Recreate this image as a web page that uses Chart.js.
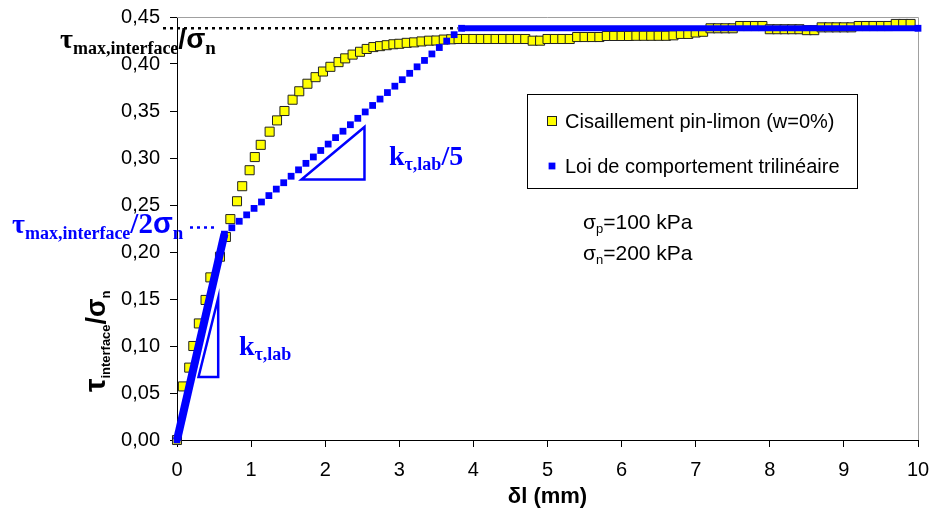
<!DOCTYPE html>
<html>
<head>
<meta charset="utf-8">
<script src="https://cdn.jsdelivr.net/npm/chart.js@4.4.1/dist/chart.umd.min.js"></script>
<style>
  html, body { margin: 0; padding: 0; background: #fff; }
  #wrap { width: 932px; height: 512px; position: relative; }
</style>
</head>
<body>
<div id="wrap"><canvas id="c"></canvas></div>
<script>
// ── values ────────────────────────────────────────────────────────────────
// shear test (yellow squares)
const dlTest = [
  0, 0.08, 0.165, 0.22, 0.295, 0.385, 0.45, 0.58, 0.66, 0.72, 0.81, 0.88, 0.98,
  1.05, 1.13, 1.25, 1.35, 1.45, 1.56, 1.65, 1.76, 1.87, 1.97, 2.07, 2.18, 2.27,
  2.37, 2.47, 2.56, 2.65, 2.74, 2.83, 2.92,
  3.0, 3.1, 3.2, 3.3, 3.4, 3.5, 3.6, 3.7, 3.8, 3.9, 4.0, 4.1, 4.2, 4.3, 4.4,
  4.5, 4.6, 4.7, 4.8, 4.9, 5.0, 5.1, 5.2, 5.3, 5.4, 5.5, 5.6, 5.7, 5.8, 5.9,
  6.0, 6.1, 6.2, 6.3, 6.4, 6.5, 6.6, 6.7, 6.8, 6.9, 7.0, 7.1, 7.2, 7.3, 7.4,
  7.5, 7.6, 7.7, 7.8, 7.9, 8.0, 8.1, 8.2, 8.3, 8.4, 8.5, 8.6, 8.7, 8.8, 8.9,
  9.0, 9.1, 9.2, 9.3, 9.4, 9.5, 9.6, 9.7, 9.8, 9.9
];
const tauTest = [
  0, 0.057, 0.077, 0.100, 0.124, 0.149, 0.173, 0.195, 0.216, 0.235, 0.254, 0.270, 0.287,
  0.301, 0.314, 0.328, 0.340, 0.350, 0.362, 0.371, 0.379, 0.386, 0.392, 0.397, 0.402, 0.406,
  0.410, 0.413, 0.416, 0.418, 0.419, 0.420, 0.421,
  0.4215, 0.4225, 0.423, 0.424, 0.4248, 0.425, 0.426, 0.4263, 0.4266, 0.4266, 0.4266, 0.4266, 0.4266, 0.4266, 0.4266,
  0.4266, 0.4266, 0.4266, 0.4248, 0.4248, 0.4266, 0.4266, 0.4266, 0.4266, 0.4287, 0.4287, 0.4287, 0.4287, 0.4298, 0.4298,
  0.4298, 0.4298, 0.430, 0.430, 0.430, 0.430, 0.430, 0.4305, 0.432, 0.432, 0.4335, 0.4343, 0.438, 0.438, 0.438,
  0.438, 0.4404, 0.4404, 0.4404, 0.4404, 0.437, 0.437, 0.437, 0.437, 0.437, 0.436, 0.436, 0.439, 0.439, 0.439,
  0.439, 0.439, 0.4404, 0.4404, 0.4404, 0.4404, 0.4404, 0.4426, 0.4426, 0.4426
];

// trilinear law (blue): corners at 0.64 and 3.84 mm, squares every 0.1 mm between
const dlLaw = [
  0, 0.64, 0.74, 0.84, 0.94, 1.04, 1.14, 1.24, 1.34, 1.44, 1.54, 1.64, 1.74, 1.84,
  1.94, 2.04, 2.14, 2.24, 2.34, 2.44, 2.54, 2.64, 2.74, 2.84, 2.94, 3.04, 3.14,
  3.24, 3.34, 3.44, 3.54, 3.64, 3.74, 3.84, 10
];
const tauLaw = [
  0, 0.219, 0.2258, 0.2327, 0.2395, 0.2464, 0.2532, 0.2600, 0.2669, 0.2737, 0.2806, 0.2874, 0.2943, 0.3011,
  0.3080, 0.3148, 0.3217, 0.3285, 0.3354, 0.3422, 0.3490, 0.3559, 0.3627, 0.3696, 0.3764, 0.3833, 0.3901,
  0.3970, 0.4038, 0.4107, 0.4175, 0.4244, 0.4312, 0.438, 0.438
];
const lawCorners = [0.64, 3.84];

// reference levels and slope triangles
const tauMaxLevel = 0.438;
const tauHalfLevel = 0.226;
const triSteepX = [0.29, 0.556, 0.556];
const triSteepY = [0.067, 0.067, 0.151];
const triSoftX  = [1.68, 2.53, 2.53];
const triSoftY  = [0.277, 0.277, 0.333];

const SANS  = '"Liberation Sans", Arial, sans-serif';
const SERIF = '"Liberation Serif", "Times New Roman", serif';
const BLUE  = '#0000ff';

const toPoints = (xs, ys) => xs.map((x, i) => ({ x, y: ys[i] }));

// draw a run of text pieces side by side (for sub-scripts)
function rich(ctx, x, y, parts) {
  let cx = x;
  for (const p of parts) {
    ctx.font = p.f;
    ctx.fillText(p.t, cx, y + (p.dy || 0));
    cx += ctx.measureText(p.t).width;
  }
  return cx;
}

const frame = {
  id: 'frame',
  beforeDatasetsDraw(chart) {
    const { ctx, chartArea: a } = chart;
    ctx.save();
    ctx.strokeStyle = '#a0a0a0';
    ctx.lineWidth = 1;
    ctx.beginPath();
    ctx.moveTo(a.left, a.top + 0.5);
    ctx.lineTo(a.right + 0.5, a.top + 0.5);
    ctx.lineTo(a.right + 0.5, a.bottom);
    ctx.stroke();
    ctx.restore();
  },
};

const annotations = {
  id: 'annotations',
  afterDatasetsDraw(chart) {
    const { ctx, chartArea: a, scales: { x, y } } = chart;
    ctx.save();

    // dotted reference lines
    ctx.lineWidth = 2.5;
    ctx.setLineDash([3, 4]);
    ctx.strokeStyle = '#000';
    ctx.beginPath();
    ctx.moveTo(163, y.getPixelForValue(tauMaxLevel));
    ctx.lineTo(x.getPixelForValue(lawCorners[1]) - 4, y.getPixelForValue(tauMaxLevel));
    ctx.stroke();
    ctx.strokeStyle = BLUE;
    ctx.beginPath();
    ctx.moveTo(190, y.getPixelForValue(tauHalfLevel));
    ctx.lineTo(x.getPixelForValue(0.5), y.getPixelForValue(tauHalfLevel));
    ctx.stroke();
    ctx.setLineDash([]);

    // slope triangles
    ctx.strokeStyle = BLUE;
    ctx.lineWidth = 2.5;
    for (const [tx, ty] of [[triSteepX, triSteepY], [triSoftX, triSoftY]]) {
      ctx.beginPath();
      tx.forEach((v, i) => {
        const px = x.getPixelForValue(v), py = y.getPixelForValue(ty[i]);
        i ? ctx.lineTo(px, py) : ctx.moveTo(px, py);
      });
      ctx.closePath();
      ctx.stroke();
    }

    ctx.textBaseline = 'alphabetic';
    ctx.textAlign = 'left';

    // τmax,interface/σn
    ctx.fillStyle = '#000';
    rich(ctx, 60, 48, [
      { t: 'τ', f: `bold 28px ${SERIF}` },
      { t: 'max,interface', f: `bold 18px ${SERIF}`, dy: 6 },
      { t: '/σ', f: `bold 28px ${SANS}` },
      { t: 'n', f: `bold 19px ${SERIF}`, dy: 6 },
    ]);

    // τmax,interface/2σn
    ctx.fillStyle = BLUE;
    rich(ctx, 12, 233, [
      { t: 'τ', f: `bold 28px ${SERIF}` },
      { t: 'max,interface', f: `bold 18px ${SERIF}`, dy: 6 },
      { t: '/2', f: `bold 29px ${SERIF}` },
      { t: 'σ', f: `bold 29px ${SANS}` },
      { t: 'n', f: `bold 19px ${SERIF}`, dy: 6 },
    ]);

    // slopes
    rich(ctx, 239, 355, [
      { t: 'k', f: `bold 28px ${SERIF}` },
      { t: 'τ,lab', f: `bold 18px ${SERIF}`, dy: 5 },
    ]);
    rich(ctx, 389, 165, [
      { t: 'k', f: `bold 28px ${SERIF}` },
      { t: 'τ,lab', f: `bold 18px ${SERIF}`, dy: 5 },
      { t: '/5', f: `bold 28px ${SERIF}` },
    ]);

    // test conditions
    ctx.fillStyle = '#000';
    rich(ctx, 583, 229, [
      { t: 'σ', f: `21px ${SANS}` },
      { t: 'p', f: `13px ${SANS}`, dy: 4 },
      { t: '=100 kPa', f: `21px ${SANS}` },
    ]);
    rich(ctx, 583, 260, [
      { t: 'σ', f: `21px ${SANS}` },
      { t: 'n', f: `13px ${SANS}`, dy: 4 },
      { t: '=200 kPa', f: `21px ${SANS}` },
    ]);

    // legend box
    ctx.strokeStyle = '#000';
    ctx.lineWidth = 1;
    ctx.strokeRect(527.5, 94.5, 330, 94);
    const ds = chart.data.datasets;
    const rows = [[ds[0], 121], [ds[1], 166]];
    ctx.textBaseline = 'middle';
    ctx.font = `20px ${SANS}`;
    for (const [d, ry] of rows) {
      const s = Math.min(d.pointRadius * Math.SQRT2, 9);
      ctx.fillStyle = d.pointBackgroundColor;
      ctx.fillRect(552 - s / 2, ry - s / 2, s, s);
      if (d.pointBorderWidth) {
        ctx.strokeStyle = d.pointBorderColor;
        ctx.lineWidth = d.pointBorderWidth;
        ctx.strokeRect(552 - s / 2, ry - s / 2, s, s);
      }
      ctx.fillStyle = '#000';
      ctx.fillText(d.label, 565, ry + 1);
    }

    // axis titles
    ctx.textAlign = 'center';
    ctx.font = `bold 22px ${SANS}`;
    ctx.fillText('δl (mm)', (a.left + a.right) / 2, 497);

    ctx.textAlign = 'left';
    ctx.textBaseline = 'alphabetic';
    ctx.translate(105, 392);
    ctx.rotate(-Math.PI / 2);
    rich(ctx, 0, 0, [
      { t: 'τ', f: `bold 30px ${SANS}` },
      { t: 'interface', f: `bold 13px ${SANS}`, dy: 5 },
      { t: '/σ', f: `bold 27px ${SANS}` },
      { t: 'n', f: `bold 13px ${SANS}`, dy: 5 },
    ]);

    ctx.restore();
  },
};

new Chart(document.getElementById('c'), {
  type: 'scatter',
  data: {
    datasets: [
      {
        label: 'Cisaillement pin-limon (w=0%)',
        data: toPoints(dlTest, tauTest),
        order: 1,
        showLine: false,
        pointStyle: 'rect',
        pointRadius: 6.4,
        pointBackgroundColor: '#ffff00',
        pointBorderColor: '#222',
        pointBorderWidth: 1,
        clip: false,
      },
      {
        label: 'Loi de comportement trilinéaire',
        data: toPoints(dlLaw, tauLaw),
        order: 0,
        showLine: true,
        borderColor: BLUE,
        borderWidth: 6,
        pointStyle: 'rect',
        pointRadius: 4.8,
        pointBackgroundColor: BLUE,
        pointBorderColor: BLUE,
        pointBorderWidth: 0,
        clip: false,
        segment: {
          borderColor: (c) =>
            c.p0.parsed.x >= lawCorners[0] - 1e-6 && c.p1.parsed.x <= lawCorners[1] + 1e-6
              ? 'rgba(0,0,0,0)' : BLUE,
          borderWidth: (c) => (c.p1.parsed.x <= lawCorners[0] + 1e-6 ? 8 : 6),
        },
      },
    ],
  },
  options: {
    responsive: true,
    maintainAspectRatio: false,
    animation: false,
    events: [],
    layout: { padding: { left: 0, right: 14, top: 17, bottom: 0 } },
    plugins: {
      legend: { display: false },
      tooltip: { enabled: false },
    },
    scales: {
      x: {
        type: 'linear',
        min: 0,
        max: 10,
        afterFit: (s) => { s.height = 72; s.paddingLeft = 0; s.paddingRight = 0; },
        ticks: {
          stepSize: 1,
          color: '#000',
          font: { family: SANS, size: 20 },
          padding: 11,
          maxRotation: 0,
        },
        grid: { drawOnChartArea: false, color: '#000', tickLength: 7 },
        border: { color: '#000', width: 1 },
      },
      y: {
        type: 'linear',
        min: 0,
        max: 0.45,
        afterFit: (s) => { s.width = 177; s.paddingTop = 0; s.paddingBottom = 0; },
        ticks: {
          stepSize: 0.05,
          color: '#000',
          font: { family: SANS, size: 20 },
          padding: 10,
          callback: (v) => v.toFixed(2).replace('.', ','),
        },
        grid: { drawOnChartArea: false, color: '#000', tickLength: 7 },
        border: { color: '#000', width: 1 },
      },
    },
  },
  plugins: [frame, annotations],
});
</script>
</body>
</html>
